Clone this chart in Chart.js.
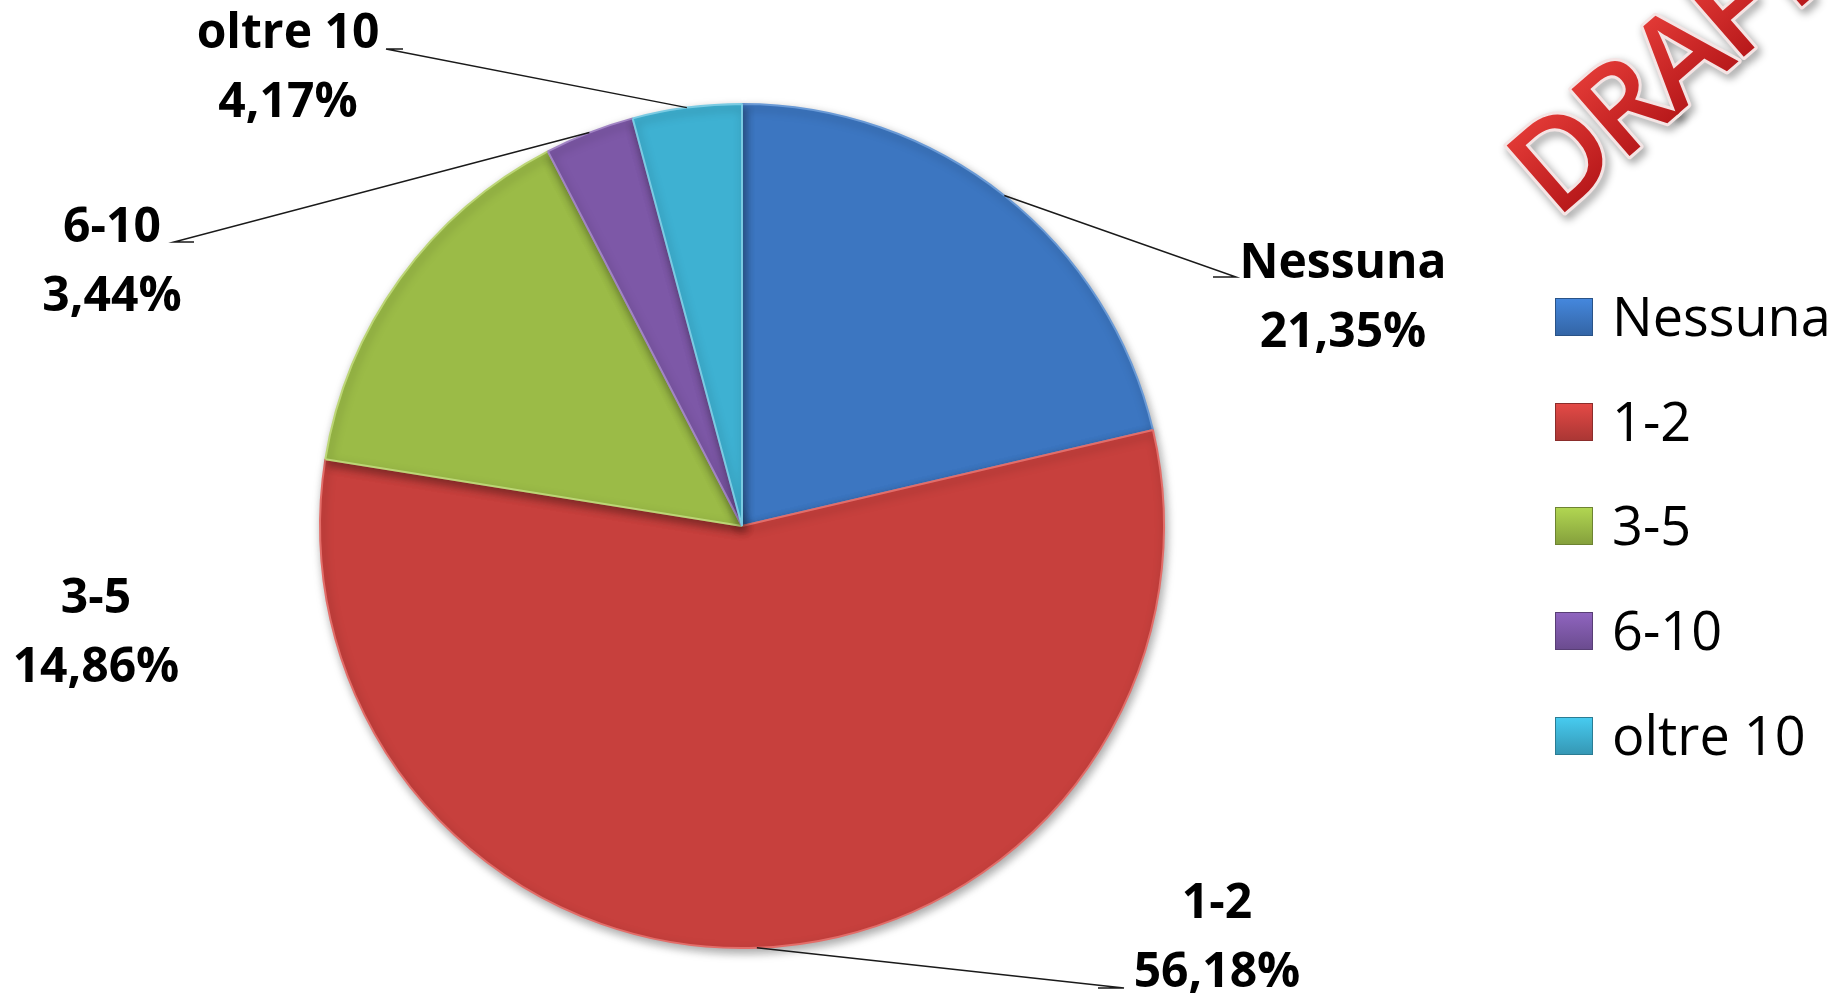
<!DOCTYPE html>
<html>
<head>
<meta charset="utf-8">
<script src="https://cdn.jsdelivr.net/npm/chart.js"></script>
<style>
  html, body { margin: 0; padding: 0; background: #ffffff; }
  #torta { display: block; }
</style>
</head>
<body>
<canvas id="torta" width="1848" height="996"></canvas>
<script>
const categories = ["Nessuna", "1-2", "3-5", "6-10", "oltre 10"];
const percentages = [21.35, 56.18, 14.86, 3.44, 4.17];
const sliceColors = ["#3c76c1", "#c7403d", "#9bbb47", "#7d58a7", "#3eb1d2"];
const sliceEdges = ["#6a9ad6", "#e36d69", "#bcd676", "#a184c4", "#7acbe3"];

// posizione delle etichette (centro testo, linea di base) e punto di gomito della linea guida
const labelLayout = [
  { x: 1343, y: 278, elbow: [1213, 277], end: [1236, 277] },
  { x: 1217, y: 918, elbow: [1098, 988], end: [1124, 988] },
  { x: 96, y: 613, elbow: null, end: null },
  { x: 112, y: 242, elbow: [194, 242], end: [174, 242] },
  { x: 288, y: 48, elbow: [403, 49], end: [386, 49] },
];
const legendRows = [317, 422, 526, 631, 736];

function formatPercent(v) {
  return v.toFixed(2).replace(".", ",") + "%";
}

function shade(hex, amt) {
  const n = parseInt(hex.slice(1), 16);
  let r = (n >> 16) & 255, g = (n >> 8) & 255, b = n & 255;
  r = Math.max(0, Math.min(255, Math.round(r * amt)));
  g = Math.max(0, Math.min(255, Math.round(g * amt)));
  b = Math.max(0, Math.min(255, Math.round(b * amt)));
  return "rgb(" + r + "," + g + "," + b + ")";
}

// riempimento con bordo esterno leggermente scuro
function sliceFill(context) {
  const chart = context.chart;
  const color = sliceColors[context.dataIndex];
  const arc = context.element;
  if (!arc || !arc.outerRadius) return color;
  const g = chart.ctx.createRadialGradient(arc.x, arc.y, 0, arc.x, arc.y, arc.outerRadius);
  g.addColorStop(0, shade(color, 1.0));
  g.addColorStop(0.93, shade(color, 1.0));
  g.addColorStop(1, shade(color, 0.86));
  return g;
}

// ombra sotto la torta
const pieShadow = {
  id: "pieShadow",
  beforeDatasetsDraw(chart) {
    const ctx = chart.ctx;
    ctx.save();
    ctx.shadowColor = "rgba(0,0,0,0.35)";
    ctx.shadowBlur = 10;
    ctx.shadowOffsetX = 2;
    ctx.shadowOffsetY = 4;
  },
  afterDatasetsDraw(chart) {
    chart.ctx.restore();
  },
};

// etichette esterne, legenda e scritta DRAFT
const decorations = {
  id: "decorations",
  afterDraw(chart) {
    const ctx = chart.ctx;
    const arcs = chart.getDatasetMeta(0).data;

    // linee guida
    ctx.save();
    ctx.strokeStyle = "#1a1a1a";
    ctx.lineWidth = 1.5;
    arcs.forEach((arc, i) => {
      const lay = labelLayout[i];
      if (!lay.elbow) return;
      const mid = (arc.startAngle + arc.endAngle) / 2;
      const px = arc.x + Math.cos(mid) * arc.outerRadius;
      const py = arc.y + Math.sin(mid) * arc.outerRadius;
      ctx.beginPath();
      ctx.moveTo(px, py);
      ctx.lineTo(lay.end[0], lay.end[1]);
      ctx.lineTo(lay.elbow[0], lay.elbow[1]);
      ctx.stroke();
    });
    ctx.restore();

    // testo etichette
    ctx.save();
    ctx.fillStyle = "#000000";
    ctx.font = "bold 48px 'Open Sans'";
    ctx.textAlign = "center";
    ctx.textBaseline = "alphabetic";
    categories.forEach((cat, i) => {
      const lay = labelLayout[i];
      ctx.fillText(cat, lay.x, lay.y);
      ctx.fillText(formatPercent(percentages[i]), lay.x, lay.y + 69);
    });
    ctx.restore();

    // legenda
    ctx.save();
    ctx.font = "54px 'Open Sans'";
    ctx.textAlign = "left";
    ctx.textBaseline = "alphabetic";
    categories.forEach((cat, i) => {
      const cy = legendRows[i];
      const g = ctx.createLinearGradient(0, cy - 19, 0, cy + 19);
      g.addColorStop(0, shade(sliceColors[i], 1.15));
      g.addColorStop(1, shade(sliceColors[i], 0.85));
      ctx.fillStyle = g;
      ctx.fillRect(1555, cy - 19, 38, 38);
      ctx.strokeStyle = shade(sliceColors[i], 0.7);
      ctx.lineWidth = 1;
      ctx.strokeRect(1555.5, cy - 18.5, 37, 37);
      ctx.fillStyle = "#000000";
      ctx.fillText(cat, 1612, cy + 19);
    });
    ctx.restore();

    // filigrana DRAFT
    ctx.save();
    ctx.translate(1556, 220);
    ctx.rotate(-41 * Math.PI / 180);
    ctx.font = "600 124px 'Open Sans'";
    ctx.letterSpacing = "-5px";
    ctx.textAlign = "left";
    ctx.textBaseline = "alphabetic";
    ctx.lineJoin = "round";
    ctx.shadowColor = "rgba(0,0,0,0.45)";
    ctx.shadowBlur = 8;
    ctx.shadowOffsetX = 3;
    ctx.shadowOffsetY = 4;
    ctx.strokeStyle = "#f4e4e4";
    ctx.lineWidth = 6;
    ctx.strokeText("DRAFT", 0, 0);
    ctx.shadowColor = "transparent";
    const rg = ctx.createLinearGradient(0, -92, 0, 0);
    rg.addColorStop(0, "#e23a36");
    rg.addColorStop(1, "#b8191b");
    ctx.fillStyle = rg;
    ctx.fillText("DRAFT", 0, 0);
    ctx.restore();
  },
};

new Chart(document.getElementById("torta"), {
  type: "pie",
  data: {
    labels: categories,
    datasets: [
      {
        data: percentages,
        backgroundColor: sliceFill,
        borderColor: sliceEdges,
        borderWidth: 2,
      },
    ],
  },
  options: {
    responsive: false,
    animation: false,
    layout: {
      padding: { left: 319, right: 683, top: 103, bottom: 47 },
    },
    plugins: {
      legend: { display: false },
      tooltip: { enabled: false },
    },
  },
  plugins: [pieShadow, decorations],
});
</script>
</body>
</html>
